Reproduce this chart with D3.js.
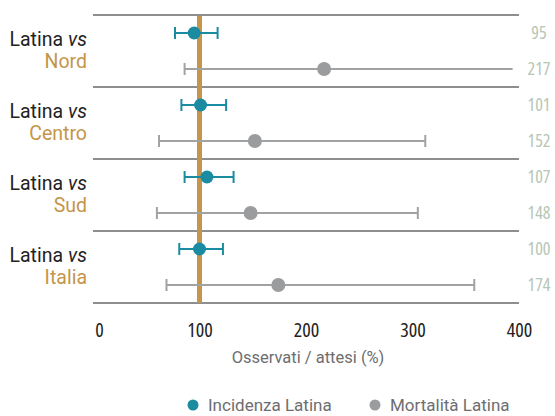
<!DOCTYPE html>
<html>
<head>
<meta charset="utf-8">
<script src="https://cdn.jsdelivr.net/npm/d3@7"></script>
<style>
  html, body { margin: 0; padding: 0; background: #fff; }
  svg { display: block; font-family: Roboto, "Open Sans", sans-serif; }
</style>
</head>
<body>
<div id="chart"></div>
<script>
const areas = ["Nord", "Centro", "Sud", "Italia"];
const incidence = [95, 101, 107, 100];
const incidenceLow = [77, 83, 86, 81];
const incidenceHigh = [117, 125, 132, 122];
const mortality = [217, 152, 148, 174];
const mortalityLow = [86, 62, 60, 69];
const mortalityHigh = [394, 312, 305, 358];
const mortalityHighCapped = [false, true, true, true];
const xTicks = [0, 100, 200, 300, 400];
const seriesNames = ["Incidenza Latina", "Mortalità Latina"];

const W = 555, H = 416;
const teal = "#1b8ba2", greyDot = "#9a9c9e", greyLine = "#a0a2a3", gold = "#c4954a",
      gridC = "#8c8e8f", valC = "#b5c6b5";
const condensed = "\"Open Sans\", sans-serif";

const svg = d3.select("#chart").append("svg").attr("width", W).attr("height", H);

const x = d3.scaleLinear().domain([0, 400]).range([93, 519]);
const band = d3.scaleBand().domain(areas).range([15, 303]).paddingInner(0).paddingOuter(0);

// horizontal grid lines (band boundaries)
const bounds = areas.map(a => band(a)).concat([band(areas[areas.length - 1]) + band.bandwidth()]);
svg.append("g").selectAll("line").data(bounds).join("line")
  .attr("x1", x(0)).attr("x2", x(400))
  .attr("y1", d => d).attr("y2", d => d)
  .attr("stroke", gridC).attr("stroke-width", 2);

// reference line at 100
svg.append("line")
  .attr("x1", x(100)).attr("x2", x(100))
  .attr("y1", band(areas[0]) + 1).attr("y2", bounds[bounds.length - 1])
  .attr("stroke", gold).attr("stroke-width", 5);

const yInc = a => band(a) + band.bandwidth() * 0.25;
const yMor = a => band(a) + band.bandwidth() * 0.75;

function drawSeries(vals, lo, hi, yFn, color, r, capFlags, dotColor) {
  const g = svg.append("g");
  areas.forEach((a, i) => {
    const y = yFn(a);
    g.append("line").attr("x1", x(lo[i])).attr("x2", x(hi[i])).attr("y1", y).attr("y2", y)
      .attr("stroke", color).attr("stroke-width", 2);
    g.append("line").attr("x1", x(lo[i])).attr("x2", x(lo[i])).attr("y1", y - 6).attr("y2", y + 6)
      .attr("stroke", color).attr("stroke-width", 2);
    if (!capFlags || capFlags[i]) {
      g.append("line").attr("x1", x(hi[i])).attr("x2", x(hi[i])).attr("y1", y - 6).attr("y2", y + 6)
        .attr("stroke", color).attr("stroke-width", 2);
    }
    g.append("circle").attr("cx", x(vals[i])).attr("cy", y).attr("r", r).attr("fill", dotColor);
  });
}
drawSeries(incidence, incidenceLow, incidenceHigh, yInc, teal, 6.5, null, teal);
drawSeries(mortality, mortalityLow, mortalityHigh, yMor, greyLine, 7, mortalityHighCapped, greyDot);

// left labels
const lab = svg.append("g").attr("text-anchor", "end").attr("font-size", 19.5);
areas.forEach(a => {
  const c = band(a) + band.bandwidth() / 2;
  const vs = lab.append("text").attr("x", 87).attr("y", c - 5).attr("fill", "#222")
    .attr("font-style", "italic").text("vs");
  const w = vs.node().getComputedTextLength();
  lab.append("text").attr("x", 87 - w - 5).attr("y", c - 5).attr("fill", "#222").text("Latina");
  lab.append("text").attr("x", 87).attr("y", c + 17).attr("fill", gold).text(a);
});

// right values
const rv = svg.append("g").attr("text-anchor", "middle").attr("font-size", 18).attr("fill", valC)
  .attr("font-family", condensed).style("font-stretch", "condensed");
areas.forEach((a, i) => {
  rv.append("text").attr("x", 539).attr("y", yInc(a)).attr("dy", "0.35em").text(incidence[i]);
  rv.append("text").attr("x", 539).attr("y", yMor(a)).attr("dy", "0.35em").text(mortality[i]);
});

// x axis
const axis = d3.axisBottom(x).tickValues(xTicks).tickSize(0).tickPadding(0);
const ax = svg.append("g").attr("transform", "translate(0,337)").call(axis);
ax.select(".domain").remove();
ax.selectAll("text").attr("font-size", 20).attr("fill", "#222")
  .attr("font-family", condensed)
  .style("font-stretch", "condensed")
  .attr("dy", 0).attr("dx", d => d === 0 ? 6 : 0);

svg.append("text").attr("x", 308).attr("y", 363).attr("text-anchor", "middle")
  .attr("font-size", 16.5).attr("fill", "#6d6e70")
  .text("Osservati / attesi (%)");

// legend
const leg = svg.append("g").attr("font-size", 17).attr("fill", "#6d6e70");
const legItems = [{ n: seriesNames[0], c: teal, x: 193 }, { n: seriesNames[1], c: greyDot, x: 375 }];
legItems.forEach(it => {
  leg.append("circle").attr("cx", it.x).attr("cy", 405).attr("r", 5.5).attr("fill", it.c);
  leg.append("text").attr("x", it.x + 15).attr("y", 411).text(it.n);
});
</script>
</body>
</html>
